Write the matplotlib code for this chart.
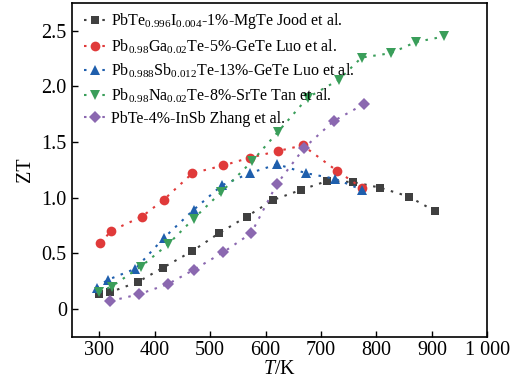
import numpy as np
import matplotlib
matplotlib.use('Agg')
import matplotlib.pyplot as plt

plt.rcParams['font.family'] = 'Liberation Serif'
plt.rcParams['mathtext.fontset'] = 'custom'
plt.rcParams['mathtext.rm'] = 'Liberation Serif'
plt.rcParams['mathtext.it'] = 'Liberation Serif:italic'

# PbTe0.996I0.004-1%-MgTe (Jood)
t_jood = [300, 320, 369, 415, 468, 516, 566, 614, 664, 711, 758, 806, 858, 905]
zt_jood = [0.13, 0.15, 0.24, 0.37, 0.52, 0.68, 0.83, 0.98, 1.07, 1.15, 1.14, 1.09, 1.01, 0.88]

# Pb0.98Ga0.02Te-5%-GeTe (Luo)
t_ga = [302, 321, 377, 416, 468, 524, 572, 623, 667, 729, 773]
zt_ga = [0.59, 0.70, 0.83, 0.98, 1.22, 1.29, 1.36, 1.42, 1.47, 1.24, 1.09]

# Pb0.988Sb0.012Te-13%-GeTe (Luo)
t_sb = [295, 315, 365, 417, 470, 521, 571, 621, 673, 725, 774]
zt_sb = [0.19, 0.26, 0.36, 0.64, 0.89, 1.11, 1.22, 1.30, 1.22, 1.17, 1.07]

# Pb0.98Na0.02Te-8%-SrTe (Tan)
t_na = [299, 322, 375, 424, 470, 520, 576, 622, 676, 732, 773, 826, 871, 922]
zt_na = [0.15, 0.20, 0.38, 0.58, 0.81, 1.05, 1.33, 1.59, 1.90, 2.06, 2.26, 2.30, 2.40, 2.45]

# PbTe-4%-InSb (Zhang)
t_insb = [320, 371, 423, 470, 524, 574, 620, 670, 723, 777]
zt_insb = [0.07, 0.13, 0.22, 0.35, 0.51, 0.68, 1.12, 1.45, 1.69, 1.84]

series = [
    (t_jood, zt_jood, '#404040', 's', 6, r'PbTe$_{0.996}$I$_{0.004}$-1%-MgTe Jood et al.'),
    (t_ga, zt_ga, '#e03a3a', 'o', 7, r'Pb$_{0.98}$Ga$_{0.02}$Te-5%-GeTe Luo et al.'),
    (t_sb, zt_sb, '#1f5fad', '^', 7, r'Pb$_{0.988}$Sb$_{0.012}$Te-13%-GeTe Luo et al.'),
    (t_na, zt_na, '#3a9e5a', 'v', 7, r'Pb$_{0.98}$Na$_{0.02}$Te-8%-SrTe Tan et al.'),
    (t_insb, zt_insb, '#8b68b0', 'D', 6, 'PbTe-4%-InSb Zhang et al.'),
]

fig = plt.figure(figsize=(5.19, 3.90), dpi=100)
ax = fig.add_axes([0.138, 0.137, 0.801, 0.855])

for t, zt, c, m, ms, lab in series:
    ax.plot(t, zt, linestyle=(0, (1.2, 3.2)), lw=1.5, color=c, marker=m,
            markersize=ms, markeredgewidth=0, label=lab)

ax.set_xlim(250, 1000)
ax.set_ylim(-0.25, 2.75)
ax.set_xticks([300, 400, 500, 600, 700, 800, 900, 1000])
ax.set_xticklabels(['300', '400', '500', '600', '700', '800', '900', '1 000'])
ax.set_yticks([0, 0.5, 1.0, 1.5, 2.0, 2.5])
ax.set_yticklabels(['0', '0.5', '1.0', '1.5', '2.0', '2.5'])
ax.tick_params(direction='in', labelsize=14.5, length=4, width=1)
for s in ax.spines.values():
    s.set_linewidth(1.2)

ax.set_xlabel(r'$T$/K', fontsize=14.5, labelpad=0)
ax.set_ylabel('ZT', fontsize=14.5, labelpad=5)

ax.legend(loc='upper left', frameon=False, fontsize=11.5, handlelength=1.4,
          handletextpad=0.3, labelspacing=0.38, borderaxespad=0.1,
          bbox_to_anchor=(0.01, 1.0))

fig.savefig('out.png', dpi=100)
